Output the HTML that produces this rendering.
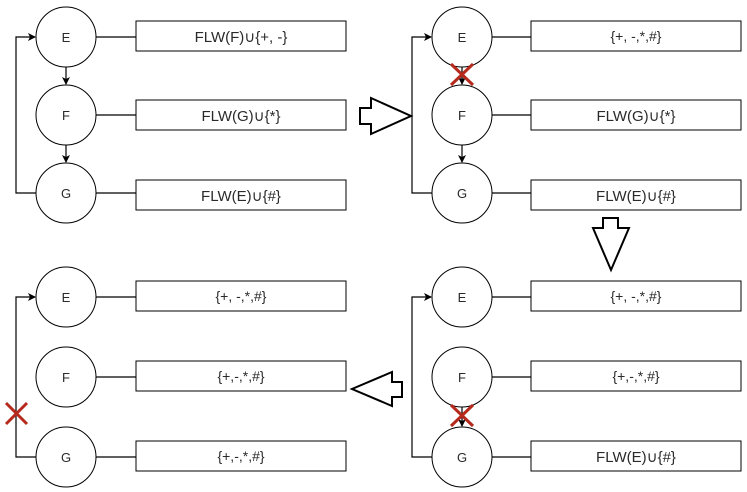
<!DOCTYPE html>
<html><head><meta charset="utf-8"><style>
html,body{margin:0;padding:0;background:#fff;}
svg{display:block;}
text{font-family:"Liberation Sans",sans-serif;fill:#2a2a2a;}
</style></head><body>
<svg width="747" height="492" viewBox="0 0 747 492" xmlns="http://www.w3.org/2000/svg">
<defs>
<marker id="ah" markerWidth="8" markerHeight="8" refX="7" refY="4" orient="auto" markerUnits="userSpaceOnUse">
<path d="M0,0 L8,4 L0,8 L2,4 Z" fill="#000"/>
</marker>
</defs>
<g stroke="#000" stroke-width="1.2" fill="none">
<g>
<path d="M36,193 H16 V37 H35" marker-end="url(#ah)"/>
<path d="M66,67 V84" marker-end="url(#ah)"/>
<path d="M66,145 V162" marker-end="url(#ah)"/>
<path d="M96,37 H136 M96,115 H136 M96,193 H136"/>
</g>
<g>
<path d="M432,193 H412 V37 H431" marker-end="url(#ah)"/>
<path d="M462,67 V84" marker-end="url(#ah)"/>
<path d="M462,145 V162" marker-end="url(#ah)"/>
<path d="M492,37 H531 M492,115 H531 M492,193 H531"/>
</g>
<g>
<path d="M432,457 H412 V297 H431" marker-end="url(#ah)"/>
<path d="M462,407 V426" marker-end="url(#ah)"/>
<path d="M492,297 H531 M492,377 H531 M492,457 H531"/>
</g>
<g>
<path d="M36,457 H16 V297 H35" marker-end="url(#ah)"/>
<path d="M96,297 H136 M96,377 H136 M96,457 H136"/>
</g>
</g>
<g stroke="#000" stroke-width="1" fill="#fff">
<circle cx="66" cy="37" r="30"/>
<circle cx="66" cy="115" r="30"/>
<circle cx="66" cy="193" r="30"/>
<circle cx="462" cy="37" r="30"/>
<circle cx="462" cy="115" r="30"/>
<circle cx="462" cy="193" r="30"/>
<circle cx="462" cy="297" r="30"/>
<circle cx="462" cy="377" r="30"/>
<circle cx="462" cy="457" r="30"/>
<circle cx="66" cy="297" r="30"/>
<circle cx="66" cy="377" r="30"/>
<circle cx="66" cy="457" r="30"/>
</g>
<g font-size="13" text-anchor="middle">
<text x="66" y="42">E</text><text x="66" y="120">F</text><text x="66" y="198">G</text>
<text x="462" y="42">E</text><text x="462" y="120">F</text><text x="462" y="198">G</text>
<text x="462" y="302">E</text><text x="462" y="382">F</text><text x="462" y="462">G</text>
<text x="66" y="302">E</text><text x="66" y="382">F</text><text x="66" y="462">G</text>
</g>
<g stroke="#000" stroke-width="1" fill="#fff">
<rect x="136" y="21" width="210" height="30"/>
<rect x="136" y="100" width="210" height="30"/>
<rect x="136" y="180" width="210" height="30"/>
<rect x="531" y="21" width="210" height="30"/>
<rect x="531" y="100" width="210" height="30"/>
<rect x="531" y="180" width="210" height="30"/>
<rect x="531" y="281" width="210" height="30"/>
<rect x="531" y="361" width="210" height="30"/>
<rect x="531" y="441" width="210" height="30"/>
<rect x="136" y="281" width="210" height="30"/>
<rect x="136" y="361" width="210" height="30"/>
<rect x="136" y="441" width="210" height="30"/>
</g>
<g text-anchor="middle">
<text x="241" y="42" font-size="15">FLW(F)∪{+, -}</text>
<text x="241" y="121" font-size="15">FLW(G)∪{*}</text>
<text x="241" y="201" font-size="15">FLW(E)∪{#}</text>
<text x="636" y="41" font-size="14">{+, -,*,#}</text>
<text x="636" y="121" font-size="15">FLW(G)∪{*}</text>
<text x="636" y="201" font-size="15">FLW(E)∪{#}</text>
<text x="636" y="301" font-size="14">{+, -,*,#}</text>
<text x="636" y="381" font-size="14">{+,-,*,#}</text>
<text x="636" y="462" font-size="15">FLW(E)∪{#}</text>
<text x="241" y="301" font-size="14">{+, -,*,#}</text>
<text x="241" y="381" font-size="14">{+,-,*,#}</text>
<text x="241" y="461" font-size="14">{+,-,*,#}</text>
</g>
<g stroke="#000" stroke-width="2" fill="#fff">
<path d="M360,108 H371 V98 L411,116 L371,134 V124 H360 Z"/>
<path d="M603,218 H618 V228 H629 L611,270 L593,228 H603 Z"/>
<path d="M402,382 H392 V372 L352,389 L392,406 V397 H402 Z"/>
</g>
<g stroke="#b52a1c" stroke-width="3">
<path d="M451,64 L473,85 M473,64 L451,85"/>
<path d="M451,405 L473,426 M473,405 L451,426"/>
<path d="M6,403 L27,424 M27,403 L6,424"/>
</g>
</svg>
</body></html>
